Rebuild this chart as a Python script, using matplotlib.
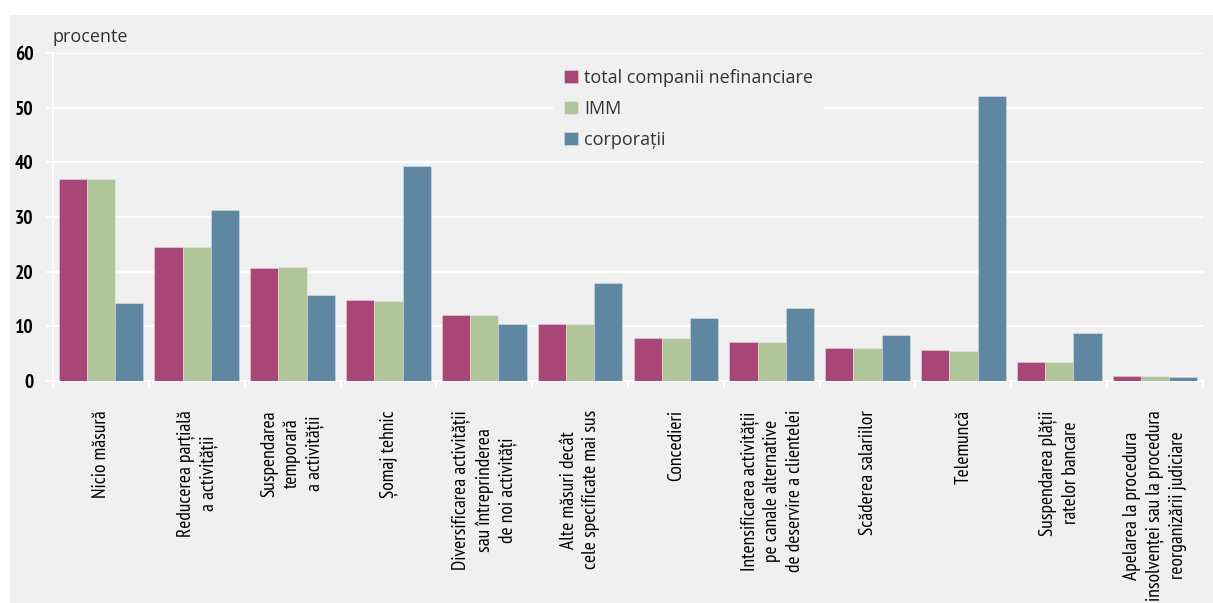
import numpy as np
import matplotlib.pyplot as plt
from matplotlib.patches import Rectangle

categories = [
    "Nicio măsură",
    "Reducerea parțială\na activității",
    "Suspendarea\ntemporară\na activității",
    "Șomaj tehnic",
    "Diversificarea activității\nsau întreprinderea\nde noi activități",
    "Alte măsuri decât\ncele specificate mai sus",
    "Concedieri",
    "Intensificarea activității\npe canale alternative\nde deservire a clientelei",
    "Scăderea salariilor",
    "Telemuncă",
    "Suspendarea plății\nratelor bancare",
    "Apelarea la procedura\ninsolvenței sau la procedura\nreorganizării judiciare",
]
total = [36.9, 24.5, 20.7, 14.8, 12.0, 10.4, 7.8, 7.1, 6.0, 5.6, 3.5, 0.9]
imm = [37.0, 24.5, 20.8, 14.6, 12.0, 10.4, 7.8, 7.1, 6.0, 5.4, 3.5, 0.9]
corp = [14.3, 31.3, 15.8, 39.3, 10.4, 18.0, 11.6, 13.4, 8.4, 52.2, 8.7, 0.7]

series = [("total companii nefinanciare", total, "#a94678"),
          ("IMM", imm, "#b0c59a"),
          ("corporații", corp, "#5f87a1")]

narrow = ["PT Sans Narrow", "Fira Sans Condensed", "Roboto Condensed",
          "Barlow Semi Condensed", "Barlow Condensed", "DejaVu Sans"]
plain = ["Open Sans", "DejaVu Sans"]

fig = plt.figure(figsize=(12.13, 6.03), dpi=100)
fig.patch.set_facecolor("white")
fig.patches.append(Rectangle((10 / 1213, 0), 1, 1 - 15 / 603, transform=fig.transFigure,
                             facecolor="#f0f0f0", edgecolor="none", zorder=-10))

ax = fig.add_axes([53 / 1213, 1 - 381 / 603, (1203 - 53) / 1213, (381 - 53) / 603])
ax.set_facecolor("none")

x = np.arange(len(categories))
w = 0.295
for i, (name, vals, col) in enumerate(series):
    ax.bar(x + (i - 1) * w, vals, width=w, color=col, label=name,
           edgecolor=(1, 1, 1, 0.35), linewidth=0.6, zorder=3)

ax.set_xlim(-0.5, len(categories) - 0.5)
ax.set_ylim(0, 60)
ax.set_yticks(range(0, 61, 10))
ax.grid(axis="y", color="white", linewidth=1.6, zorder=1)
ax.set_axisbelow(True)

ax.set_xticks(np.arange(-0.5, len(categories), 1))
ax.set_xticklabels([])
ax.set_xticks(x, minor=True)
ax.set_xticklabels(categories, minor=True, rotation=90, ha="center", va="top",
                   family=narrow, fontsize=14, linespacing=1.32)
ax.tick_params(axis="x", which="minor", length=0, pad=21)
ax.tick_params(axis="x", which="major", length=5, width=1.5, color="white")
ax.tick_params(axis="y", length=5, width=1.5, color="white", pad=9)
for lbl in ax.get_yticklabels():
    lbl.set_family(narrow)
    lbl.set_fontsize(14)
    lbl.set_fontweight("bold")

for s in ["top", "right"]:
    ax.spines[s].set_visible(False)
for s in ["left", "bottom"]:
    ax.spines[s].set_color("white")
    ax.spines[s].set_linewidth(1.6)

ax.text(0.0, 1.02, "procente", transform=ax.transAxes, family=plain,
        fontsize=13, color="#333333", va="bottom", ha="left")

leg = ax.legend(loc="upper left", bbox_to_anchor=(0.435, 0.985), frameon=True,
                facecolor="#f0f0f0", edgecolor="none", framealpha=1,
                handlelength=0.75, handleheight=0.75, handletextpad=0.35,
                labelspacing=0.72, borderpad=0.6, borderaxespad=0,
                prop={"family": plain, "size": 13})
for t in leg.get_texts():
    t.set_color("#333333")
leg.get_frame().set_boxstyle("square", pad=0)

fig.savefig("out.png", dpi=100)
